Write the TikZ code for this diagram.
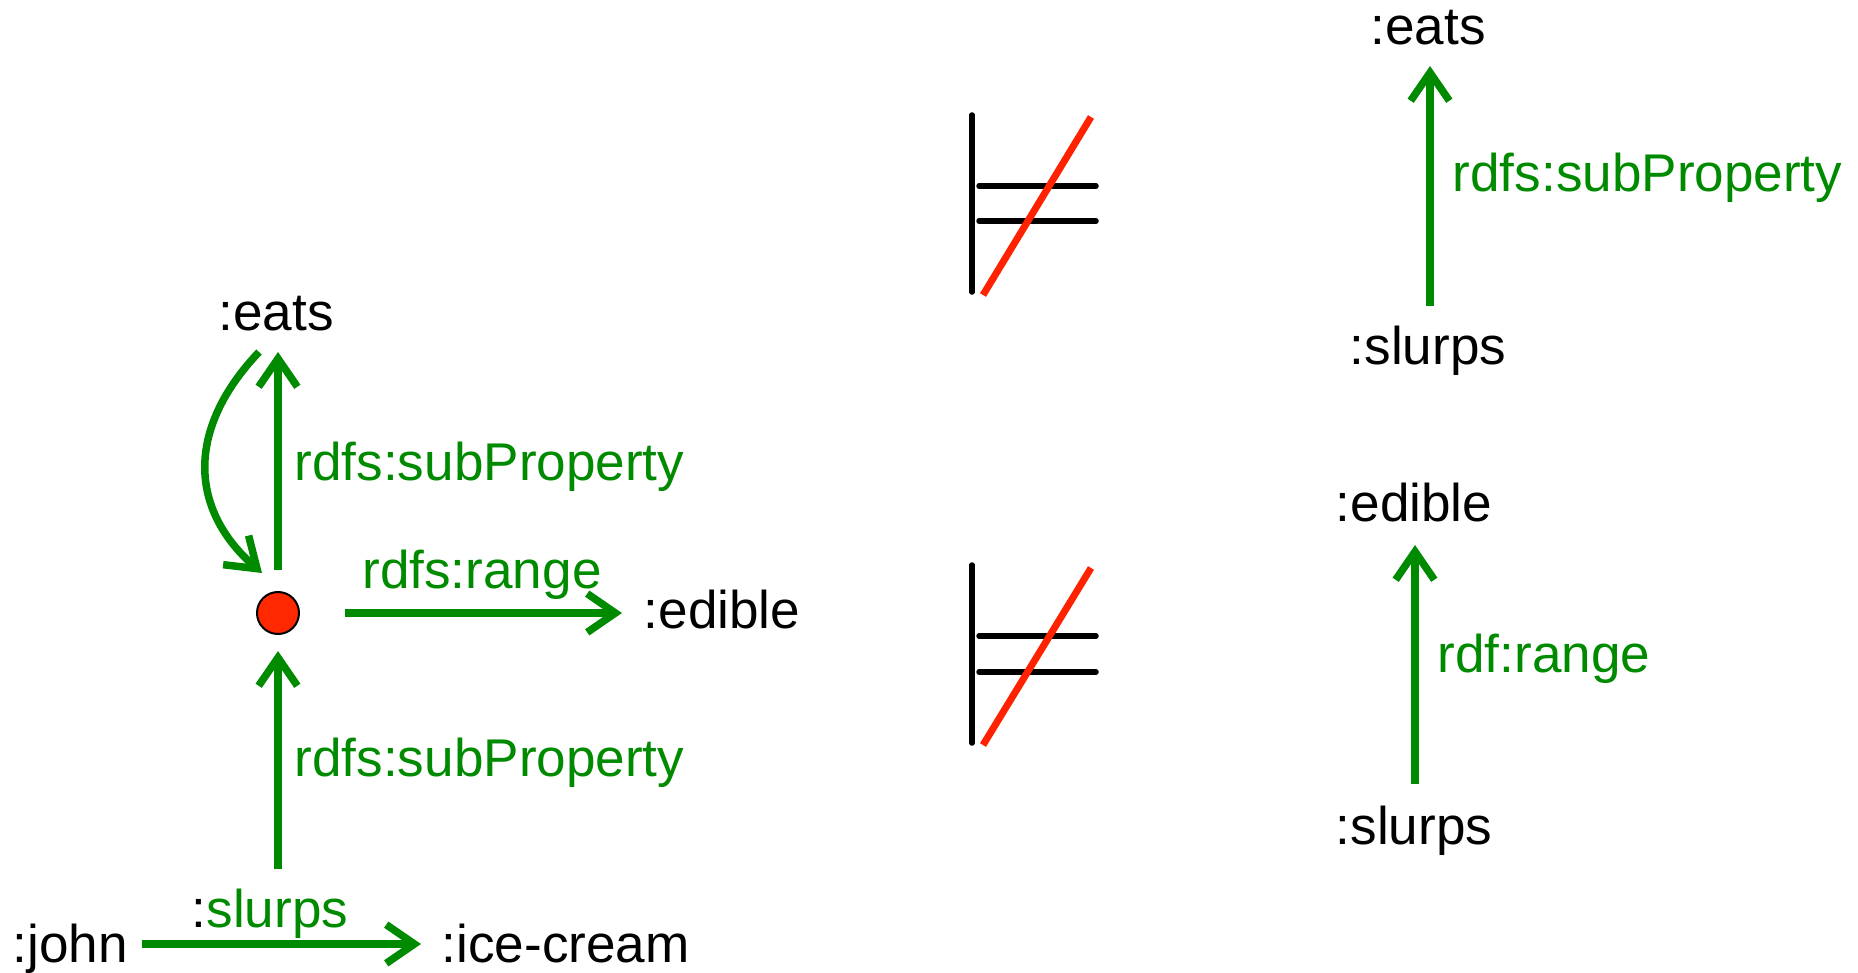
\documentclass[tikz,border=0pt]{standalone}
\usepackage{fontspec}
\setmainfont{Liberation Sans}
\usetikzlibrary{arrows.meta}
\definecolor{rdfgreen}{RGB}{0,138,0}
\definecolor{dotred}{RGB}{255,40,0}
\definecolor{slashred}{RGB}{255,34,0}
\begin{document}
\begin{tikzpicture}[x=0.01cm,y=-0.01cm,
  lbl/.style={inner sep=0pt, anchor=base west, font=\fontsize{15.1}{18}\selectfont},
  clbl/.style={lbl, anchor=base},
  glbl/.style={lbl, text=rdfgreen},
  gclbl/.style={clbl, text=rdfgreen},
  arr/.style={draw=rdfgreen, line width=0.075cm, -{Straight Barb[length=8pt,width=11pt]}},
  dotnode/.style={circle, fill=dotred, draw=black, line width=0.02cm, minimum size=0.42cm, inner sep=0pt},
  entbar/.style={line width=0.055cm, line cap=round, black},
  entslash/.style={line width=0.07cm, slashred}]
\useasboundingbox (0,0) rectangle (1858,973);

% ---------- left graph ----------
\node[clbl] (eatsL) at (276,330) {:eats};
\node[dotnode] (dot) at (278,613) {};
\node[lbl] (edibleL) at (643,628) {:edible};
\node[lbl] (john) at (12,962) {:john};
\node[lbl] (ice) at (441,962) {:ice-cream};
\coordinate (subbot) at (278,869);
\coordinate (cstart) at (259,352);
\coordinate (cend) at (262,573);

\draw[arr, shorten <=0.21cm] (dot.north) -- (dot.north |- 0,352);
\node[glbl] (subL1) at (294,480) {rdfs:subProperty};
\draw[arr] (cstart) .. controls (185,430) and (190,510) .. (cend);
\draw[arr, shorten <=0.45cm, shorten >=0.21cm] (dot.east) -- (dot.east -| edibleL.west);
\node[gclbl] (rangeL) at (482,588) {rdfs:range};
\draw[arr, shorten >=0.16cm] (subbot) -- (dot.south);
\node[glbl] (subL2) at (294,776) {rdfs:subProperty};
\draw[arr] ([xshift=0.13cm,yshift=0.18cm]john.base east) -- ([xshift=-0.2cm,yshift=0.18cm]ice.base west);
\node[gclbl] (slurpsLbl) at (270,927) {{\color{black}:}slurps};

% ---------- entailment symbols ----------
\draw[entbar] (972,115) -- (972,292);
\draw[entbar] (979,186) -- (1096,186);
\draw[entbar] (979,221) -- (1096,221);
\draw[entslash] (983,295) -- (1091,117);

\draw[entbar] (972,565) -- (972,743);
\draw[entbar] (979,636) -- (1096,636);
\draw[entbar] (979,672) -- (1096,672);
\draw[entslash] (983,745) -- (1091,568);

% ---------- right top ----------
\node[clbl] (eatsR) at (1428,45) {:eats};
\node[clbl] (slurpsR1) at (1428,364) {:slurps};
\draw[arr] ([xshift=0.02cm,yshift=0.58cm]slurpsR1.base) -- ([xshift=0.02cm,yshift=-0.21cm]eatsR.base);
\node[glbl] (subR) at (1452,192) {rdfs:subProperty};

% ---------- right bottom ----------
\node[clbl] (edibleR) at (1414,521) {:edible};
\node[clbl] (slurpsR2) at (1414,844) {:slurps};
\draw[arr] ([xshift=0.01cm,yshift=0.6cm]slurpsR2.base) -- ([xshift=0.01cm,yshift=-0.24cm]edibleR.base);
\node[glbl] (rangeR) at (1437,672) {rdf:range};
\end{tikzpicture}
\end{document}
